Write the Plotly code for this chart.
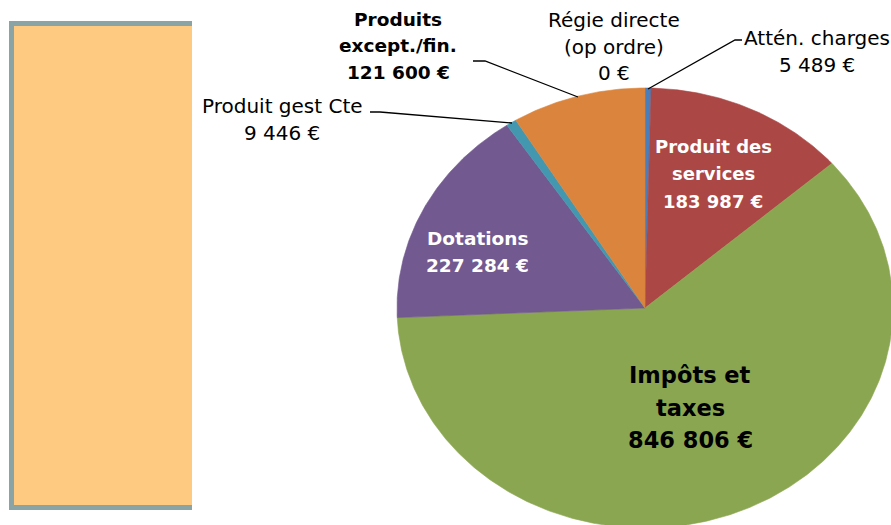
import math
import plotly.graph_objects as go

# ---- data ----
categories = ["Régie directe<br>(op ordre)", "Attén. charges", "Produit des<br>services",
              "Impôts et<br>taxes", "Dotations", "Produit gest Cte", "Produits<br>except./fin."]
values = [0, 5489, 183987, 846806, 227284, 9446, 121600]
colors = ["#4A7EBB", "#4A7EBB", "#AB4745", "#8BA650", "#72598F", "#4398B0", "#DB843D"]

W, H = 891, 525
CX, CY, RX, RY = 645, 308, 248, 220
FONT = "DejaVu Sans"

fig = go.Figure()

# left decorative panel
fig.add_shape(type="rect", x0=9, y0=21, x1=192, y1=510, xref="x", yref="y",
              fillcolor="#8AA3A5", line=dict(width=0), layer="below")
fig.add_shape(type="rect", x0=14, y0=26, x1=192, y1=505, xref="x", yref="y",
              fillcolor="#FECA81", line=dict(width=0), layer="below")

total = sum(values)
cum = 0.0
for cat, v, col in zip(categories, values, colors):
    a0 = cum / total * 2 * math.pi
    cum += v
    a1 = cum / total * 2 * math.pi
    if v <= 0:
        continue
    n = max(4, int((a1 - a0) / (2 * math.pi) * 720))
    xs, ys = [CX], [CY]
    for i in range(n + 1):
        t = a0 + (a1 - a0) * i / n
        xs.append(CX + RX * math.sin(t))
        ys.append(CY - RY * math.cos(t))
    xs.append(CX); ys.append(CY)
    fig.add_trace(go.Scatter(x=xs, y=ys, mode="lines", fill="toself", fillcolor=col,
                             line=dict(color=col, width=0.6), hoverinfo="skip",
                             showlegend=False, name=cat.replace("<br>", " ")))

def fmt(v):
    return f"{v:,}".replace(",", " ") + " €"

def label(lines, x, y0, dy, size, color="#000000", bold=False):
    for i, ln in enumerate(lines):
        txt = f"<b>{ln}</b>" if bold else ln
        fig.add_annotation(x=x, y=y0 + i * dy, xref="x", yref="y", text=txt, showarrow=False,
                           xanchor="center", yanchor="middle",
                           font=dict(family=FONT, size=size, color=color))

lab = {c: c.split("<br>") + [fmt(v)] for c, v in zip(categories, values)}

label(lab[categories[6]], 398, 19, 26.5, 18.5, bold=True)
label(lab[categories[0]], 614, 20, 26.5, 20)
label(lab[categories[1]], 817, 38, 27, 20)
label(lab[categories[5]], 282, 106, 27, 20)
label(lab[categories[2]], 713, 146, 27.5, 18, color="#FFFFFF", bold=True)
label(lab[categories[4]], 477, 238, 27, 18.5, color="#FFFFFF", bold=True)
label(lab[categories[3]], 690, 375, 32.5, 22.5, bold=True)

# leader lines
for pts in [[(473, 61), (485, 61), (578, 97)],
            [(742, 40), (735, 40), (648, 89)],
            [(370, 112), (380, 112), (512, 123)]]:
    path = "M " + " L ".join(f"{px},{py}" for px, py in pts)
    fig.add_shape(type="path", path=path, xref="x", yref="y",
                  line=dict(color="#000000", width=1.3))

fig.update_layout(width=W, height=H, margin=dict(l=0, r=0, t=0, b=0),
                  paper_bgcolor="white", plot_bgcolor="white",
                  xaxis=dict(range=[0, W], visible=False, fixedrange=True),
                  yaxis=dict(range=[H, 0], visible=False, fixedrange=True))

fig.write_html("out.html", config={"displayModeBar": False},
               post_script="document.body.style.margin='0px';document.body.style.overflow='hidden';")
